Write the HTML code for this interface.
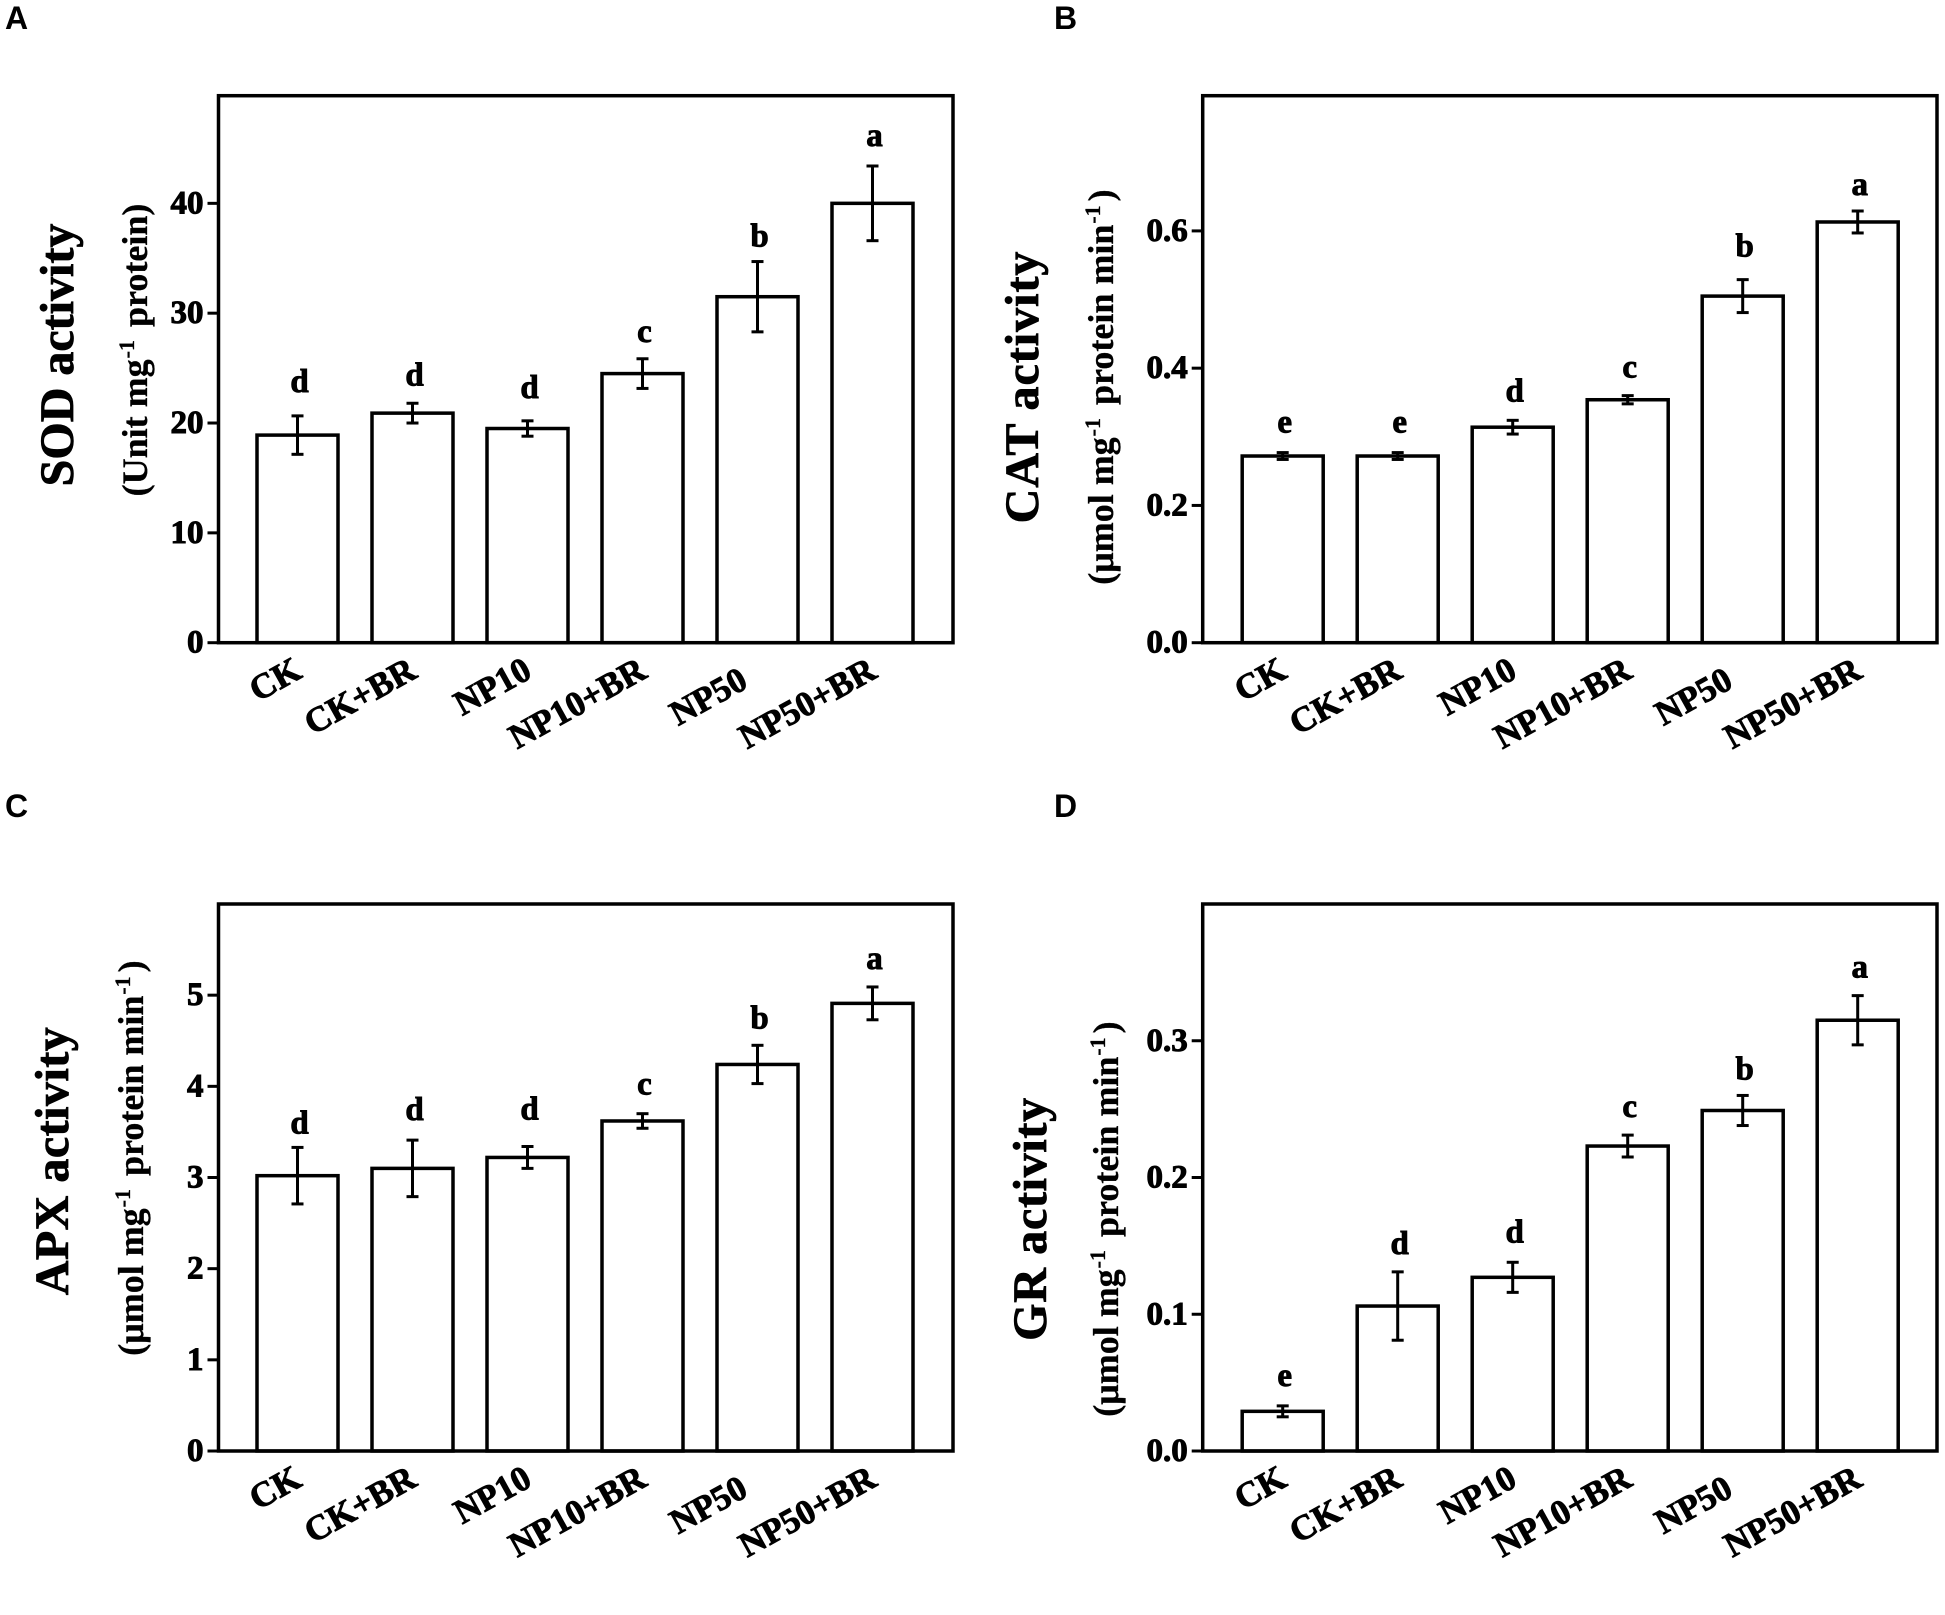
<!DOCTYPE html>
<html lang="en">
<head>
<meta charset="utf-8">
<title>Antioxidant enzyme activity</title>
<style>
html,body{margin:0;padding:0;background:#fff;}
svg{display:block;}
text{font-family:"Liberation Serif",serif;font-weight:bold;fill:#000;stroke:#000;stroke-width:.5px;}
.panel-letter{font-family:"Liberation Sans",sans-serif;font-size:32px;stroke:none;}
.tick{font-size:33px;text-anchor:end;stroke-width:1px;}
.cat{font-size:35px;text-anchor:end;stroke-width:.9px;}
.sig{font-size:33px;text-anchor:middle;stroke-width:.9px;}
.title{font-size:48px;text-anchor:middle;stroke-width:.8px;}
.sub{font-size:36px;text-anchor:middle;stroke-width:.3px;}
</style>
</head>
<body>
<svg id="figure" xmlns="http://www.w3.org/2000/svg" width="1945" height="1615" viewBox="0 0 1945 1615">
<rect x="0" y="0" width="1945" height="1615" fill="#fff"/>
</svg>
<script>
const categories = ['CK', 'CK+BR', 'NP10', 'NP10+BR', 'NP50', 'NP50+BR'];

const sodValues = [18.9, 20.9, 19.5, 24.5, 31.5, 40.0];
const sodErrors = [1.75, 0.9, 0.7, 1.35, 3.2, 3.4];
const sodLetters = ['d', 'd', 'd', 'c', 'b', 'a'];
const sodTicks = [0, 10, 20, 30, 40];
const sodTickLabels = ['0', '10', '20', '30', '40'];
const sodDomainMax = 49.8;

const catValues = [0.272, 0.272, 0.314, 0.354, 0.505, 0.613];
const catErrors = [0.005, 0.005, 0.01, 0.006, 0.024, 0.016];
const catLetters = ['e', 'e', 'd', 'c', 'b', 'a'];
const catTicks = [0, 0.2, 0.4, 0.6];
const catTickLabels = ['0.0', '0.2', '0.4', '0.6'];
const catDomainMax = 0.797;

const apxValues = [3.02, 3.1, 3.22, 3.62, 4.24, 4.91];
const apxErrors = [0.31, 0.31, 0.12, 0.08, 0.21, 0.18];
const apxLetters = ['d', 'd', 'd', 'c', 'b', 'a'];
const apxTicks = [0, 1, 2, 3, 4, 5];
const apxTickLabels = ['0', '1', '2', '3', '4', '5'];
const apxDomainMax = 6.0;

const grValues = [0.029, 0.106, 0.127, 0.223, 0.249, 0.315];
const grErrors = [0.004, 0.025, 0.011, 0.008, 0.011, 0.018];
const grLetters = ['e', 'd', 'd', 'c', 'b', 'a'];
const grTicks = [0, 0.1, 0.2, 0.3];
const grTickLabels = ['0.0', '0.1', '0.2', '0.3'];
const grDomainMax = 0.4;

const SVG_NS = 'http://www.w3.org/2000/svg';
const figure = document.getElementById('figure');

function make(tag, parent) {
  const node = document.createElementNS(SVG_NS, tag);
  parent.appendChild(node);
  return node;
}
function setAll(node, props) {
  Object.keys(props).forEach(function (k) { node.setAttribute(k, props[k]); });
  return node;
}
function addSubtitle(node, parts) {
  parts.forEach(function (p) {
    const span = make('tspan', node);
    span.textContent = p.t;
    if (p.sup) {
      span.setAttribute('font-size', '22');
      span.setAttribute('dy', '-13');
      span.setAttribute('dx', '1');
    } else if (p.after) {
      span.setAttribute('dy', '13');
      span.setAttribute('dx', '4');
    }
  });
}

function drawPanel(cfg) {
  const group = make('g', figure);
  
  

  const yScale = function (v) { return cfg.bottom - (v / cfg.domainMax) * (cfg.bottom - cfg.top); };
  const xScale = function (i) { return cfg.left + cfg.firstOffset + i * cfg.step; };

  const letter = make('text', group);
  
  
  setAll(letter, { x: cfg.labelX, y: cfg.labelY, class: 'panel-letter' });
  letter.textContent = cfg.label;

  const title = make('text', group);
  
  
  setAll(title, { class: 'title', transform: 'translate(' + cfg.titleX + ',' + cfg.titleY + ') rotate(-90)', 'letter-spacing': cfg.titleSpacing });
  title.textContent = cfg.title;

  const sub = make('text', group);
  
  
  setAll(sub, { class: 'sub', transform: 'translate(' + cfg.subX + ',' + cfg.subY + ') rotate(-90)' });
  addSubtitle(sub, cfg.units);

  cfg.values.forEach(function (v, i) {
    const cx = xScale(i);
    const top = yScale(v);
    const bar = make('rect', group);
    
    
    setAll(bar, { x: cx - cfg.barWidth / 2, y: top, width: cfg.barWidth, height: cfg.bottom - top, fill: '#fff', stroke: '#000', 'stroke-width': 3.5 });
  });

  cfg.values.forEach(function (v, i) {
    const cx = xScale(i);
    const hi = yScale(v + cfg.errors[i]);
    const lo = yScale(v - cfg.errors[i]);

    const stem = make('line', group);
    
    
    setAll(stem, { x1: cx, x2: cx, y1: hi, y2: lo, stroke: '#000', 'stroke-width': 3 });

    const capTop = make('line', group);
    
    
    setAll(capTop, { x1: cx - 6, x2: cx + 6, y1: hi, y2: hi, stroke: '#000', 'stroke-width': 3 });

    const capBottom = make('line', group);
    
    
    setAll(capBottom, { x1: cx - 6, x2: cx + 6, y1: lo, y2: lo, stroke: '#000', 'stroke-width': 3 });

    const sig = make('text', group);
    
    
    setAll(sig, { x: cx + 2, y: hi - cfg.letterGap + cfg.letterNudge[i], class: 'sig' });
    sig.textContent = cfg.letters[i];

    const isNp50 = categories[i] === 'NP50';
    const cat = make('text', group);
    
    
    const lx = cx + (isNp50 ? -8 : 6);
    const ly = cfg.bottom + (isNp50 ? 44 : 34);
    setAll(cat, { class: 'cat', transform: 'translate(' + lx + ',' + ly + ') rotate(-29)' });
    cat.textContent = categories[i];
  });

  const frame = make('rect', group);
  
  
  setAll(frame, { x: cfg.left, y: cfg.top, width: cfg.right - cfg.left, height: cfg.bottom - cfg.top, fill: 'none', stroke: '#000', 'stroke-width': 3.5 });

  cfg.ticks.forEach(function (t, i) {
    const y = yScale(t);
    const tick = make('line', group);
    
    
    setAll(tick, { x1: cfg.left - 11, x2: cfg.left, y1: y, y2: y, stroke: '#000', 'stroke-width': 3 });

    const label = make('text', group);
    
    
    setAll(label, { x: cfg.left - 15, y: y + 10, class: 'tick' });
    label.textContent = cfg.tickLabels[i];
  });
}

const colLeftA = { left: 218.5, right: 953, firstOffset: 79, step: 115, barWidth: 81 };
const colRightB = { left: 1202.7, right: 1937, firstOffset: 80, step: 115, barWidth: 81 };

drawPanel(Object.assign({}, colLeftA, {
  key: 'sod', label: 'A', labelX: 5, labelY: 29, top: 95.7, bottom: 642.7,
  values: sodValues, errors: sodErrors, letters: sodLetters, ticks: sodTicks, tickLabels: sodTickLabels, domainMax: sodDomainMax,
  title: 'SOD activity', titleX: 73, titleY: 355, titleSpacing: 0, subX: 147, subY: 350, letterGap: 18, letterNudge: [-6, 0, -5, 1, 3, -2],
  units: [{ t: '(Unit mg' }, { t: '-1', sup: true }, { t: ' protein)', after: true }]
}));
drawPanel(Object.assign({}, colRightB, {
  key: 'cat', label: 'B', labelX: 1054, labelY: 29, top: 95.7, bottom: 642.7,
  values: catValues, errors: catErrors, letters: catLetters, ticks: catTicks, tickLabels: catTickLabels, domainMax: catDomainMax,
  title: 'CAT activity', titleX: 1038, titleY: 387, titleSpacing: 1, subX: 1113, subY: 387, letterGap: 18, letterNudge: [-2, -2, -1, 0, -5, 2],
  units: [{ t: '(μmol mg' }, { t: '-1', sup: true }, { t: ' protein min', after: true }, { t: '-1', sup: true }, { t: ')', after: true }]
}));
drawPanel(Object.assign({}, colLeftA, {
  key: 'apx', label: 'C', labelX: 5, labelY: 817, top: 904, bottom: 1451,
  values: apxValues, errors: apxErrors, letters: apxLetters, ticks: apxTicks, tickLabels: apxTickLabels, domainMax: apxDomainMax,
  title: 'APX activity', titleX: 68, titleY: 1161, titleSpacing: 0.5, subX: 143, subY: 1158, letterGap: 18, letterNudge: [4, -2, -9, -1, 1, 0],
  units: [{ t: '(μmol mg' }, { t: '-1', sup: true }, { t: ' protein min', after: true }, { t: '-1', sup: true }, { t: ')', after: true }]
}));
drawPanel(Object.assign({}, colRightB, {
  key: 'gr', label: 'D', labelX: 1054, labelY: 817, top: 904, bottom: 1451,
  values: grValues, errors: grErrors, letters: grLetters, ticks: grTicks, tickLabels: grTickLabels, domainMax: grDomainMax,
  title: 'GR activity', titleX: 1046, titleY: 1219, titleSpacing: 0.7, subX: 1118, subY: 1219, letterGap: 18, letterNudge: [-2, 0, -2, 0, 2, 0],
  units: [{ t: '(μmol mg' }, { t: '-1', sup: true }, { t: ' protein min', after: true }, { t: '-1', sup: true }, { t: ')', after: true }]
}));
</script>
</body>
</html>
